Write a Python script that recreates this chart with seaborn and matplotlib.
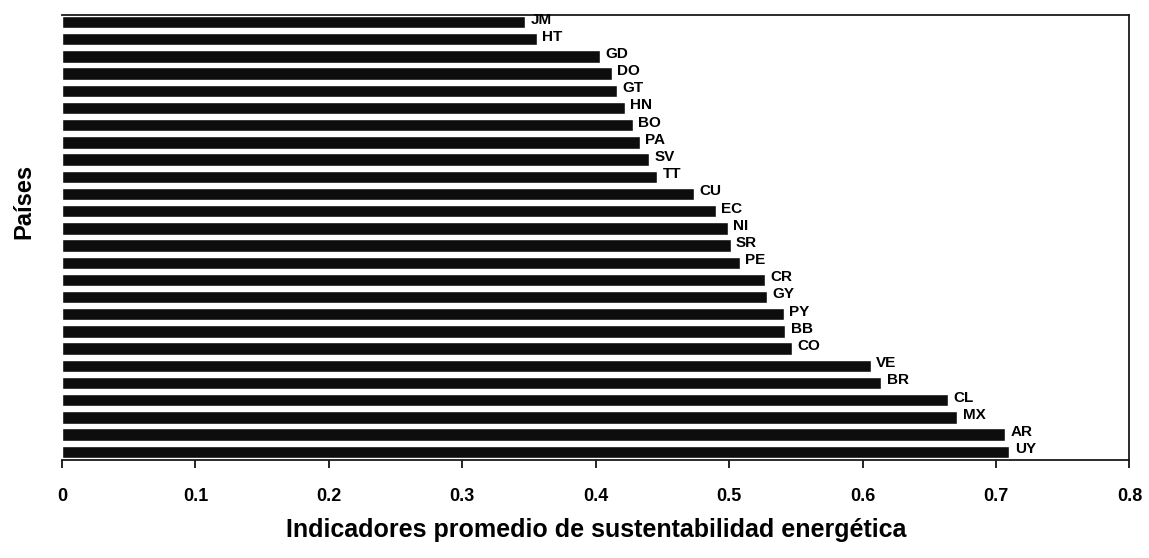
import seaborn as sns
import pandas as pd
import numpy as np
import matplotlib.pyplot as plt

paises = ['JM', 'HT', 'GD', 'DO', 'GT', 'HN', 'BO', 'PA', 'SV', 'TT',
          'CU', 'EC', 'NI', 'SR', 'PE', 'CR', 'GY', 'PY', 'BB', 'CO',
          'VE', 'BR', 'CL', 'MX', 'AR', 'UY']
indicador = [0.347, 0.356, 0.403, 0.412, 0.416, 0.422, 0.428, 0.433, 0.440, 0.446,
             0.474, 0.490, 0.499, 0.501, 0.508, 0.527, 0.528, 0.541, 0.542, 0.547,
             0.606, 0.614, 0.664, 0.671, 0.707, 0.710]
xticks = [0, 0.1, 0.2, 0.3, 0.4, 0.5, 0.6, 0.7, 0.8]
xticklabels = ['0', '0.1', '0.2', '0.3', '0.4', '0.5', '0.6', '0.7', '0.8']

df = pd.DataFrame({'pais': paises, 'valor': indicador})

sns.set_style('white')
plt.rcParams['font.family'] = ['Liberation Sans', 'DejaVu Sans']
plt.rcParams['text.color'] = 'black'
plt.rcParams['axes.labelcolor'] = 'black'
plt.rcParams['xtick.color'] = 'black'

fig = plt.figure(figsize=(11.49, 5.58), dpi=100)
ax = fig.add_axes([0.054, 0.176, 0.929, 0.797])

sns.barplot(data=df, x='valor', y='pais', orient='h', order=paises,
            color='#0d0d0d', width=0.72, saturation=1, ax=ax)

for i, (p, v) in enumerate(zip(paises, indicador)):
    ax.text(v + 0.004, i - 0.15, p, fontsize=11, fontweight='bold',
            va='center', ha='left', color='black')

ax.set_xlim(0, 0.8)
ax.set_ylim(25.47, -0.41)
ax.set_xticks(xticks)
ax.set_xticklabels(xticklabels, fontsize=13, fontweight='bold')
ax.set_yticks([])
ax.tick_params(axis='x', direction='out', length=6, width=1.2, pad=14, bottom=True)

for s in ax.spines.values():
    s.set_color('#1a1a1a')
    s.set_linewidth(1.3)
ax.spines['left'].set_visible(False)

ax.set_xlabel('Indicadores promedio de sustentabilidad energética', fontsize=18,
              fontweight='bold', labelpad=10)
ax.set_ylabel('Países', fontsize=17, fontweight='bold')
ax.yaxis.set_label_coords(-0.025, 0.58)

fig.savefig('out.png', dpi=100, facecolor='white')
